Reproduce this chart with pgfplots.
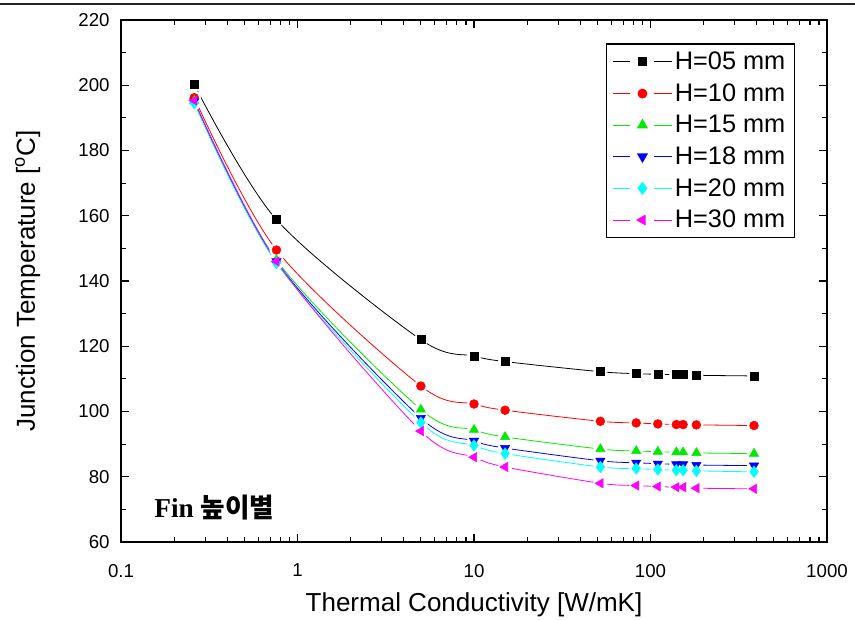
\documentclass[border=0pt]{standalone}
\usepackage{pgfplots}
\pgfplotsset{compat=1.18}
\usepackage{pgfplotstable}
\usepackage{fontspec}
\setmainfont{Liberation Sans}
\newfontfamily\serifb{Liberation Serif}
\newfontfamily\cjk{Noto Sans CJK KR}

\definecolor{cgreen}{RGB}{0,235,0}
\definecolor{cblue}{RGB}{0,0,255}
\definecolor{ccyan}{RGB}{0,255,255}
\definecolor{cmag}{RGB}{255,0,255}
\definecolor{cred}{RGB}{255,0,0}

\pgfplotstableread{
k    h05   h10   h15   h18   h20   h30
0.26 200.2 196.2 195.3 195.0 194.5 195.3
0.76 158.8 149.5 146.5 146.0 145.5 146.0
5    122.0 107.8 100.6 98.0  96.6  94.0
10   117.0 102.3 94.4  91.0  89.6  86.0
15   115.3 100.4 92.2  88.8  87.1  83.0
52   112.2 97.0  88.5  84.9  83.0  78.0
83   111.6 96.5  87.9  84.3  82.5  77.3
110  111.4 96.2  87.7  84.0  82.2  77.0
140  111.3 96.0  87.5  83.8  82.0  76.8
153  111.3 96.0  87.5  83.8  82.0  76.8
182  111.1 95.9  87.3  83.6  81.8  76.5
386  110.9 95.7  87.1  83.4  81.5  76.3
}\data

\pgfplotsset{
  gaplegend/.style={legend image code/.code={
    \draw[line width=0.6pt] (0pt,0pt) -- (13pt,0pt) (31pt,0pt) -- (44pt,0pt);
    \draw plot coordinates {(22pt,0pt)};
  }}
}

\begin{document}
\begin{tikzpicture}
\useasboundingbox (-90.75pt,-57.75pt) rectangle (550.5pt,406.5pt);
\draw[line width=1.4pt, black!85] (-90.75pt,403.5pt) -- (550.5pt,403.5pt);
\begin{axis}[
  at={(0pt,0pt)}, anchor=south west,
  scale only axis, width=529.5pt, height=391.5pt,
  xmode=log, xmin=0.1, xmax=1000, ymin=60, ymax=220,
  xtick={0.1,1,10,100,1000}, xticklabels={0.1,1,10,100,1000},
  minor xtick={0.2,0.3,0.4,0.5,0.6,0.7,0.8,0.9,2,3,4,5,6,7,8,9,20,30,40,50,60,70,80,90,200,300,400,500,600,700,800,900},
  ytick={60,80,...,220}, minor y tick num=1,
  tick align=inside,
  major tick length=6pt, minor tick length=3.5pt,
  axis line style={line width=1.2pt},
  every tick/.style={line width=0.9pt, black},
  /pgf/number format/assume math mode=true,
  tick label style={font=\fontsize{14}{16}\selectfont},
  xticklabel style={yshift=-13pt},
  yticklabel style={xshift=-5pt},
  xlabel={Thermal Conductivity [W/mK]},
  ylabel={Junction Temperature [$^{\mathrm{o}}$C]},
  label style={font=\fontsize{19.5}{22}\selectfont},
  xlabel style={at={(axis description cs:0.5,0)}, anchor=center, yshift=-47pt},
  ylabel style={at={(axis description cs:0,0.5)}, anchor=center, yshift=70pt},
  legend style={at={(0.955,0.955)}, anchor=north east, draw=black, line width=0.8pt,
    font=\fontsize{19}{22}\selectfont, row sep=5pt, inner xsep=5pt, inner ysep=4pt},
  legend cell align=left,
]
% legend entries
\addlegendimage{gaplegend, black, mark=square*, mark size=3pt}
\addlegendentry{H=05 mm}
\addlegendimage{gaplegend, cred, mark=*, mark size=3.3pt}
\addlegendentry{H=10 mm}
\addlegendimage{gaplegend, cgreen, mark=triangle*, mark size=4pt}
\addlegendentry{H=15 mm}
\addlegendimage{gaplegend, cblue, mark=triangle*, mark size=4pt, mark options={rotate=180}}
\addlegendentry{H=18 mm}
\addlegendimage{gaplegend, ccyan, mark=diamond*, mark size=4.3pt}
\addlegendentry{H=20 mm}
\addlegendimage{gaplegend, cmag, mark=triangle*, mark size=4pt, mark options={rotate=90}}
\addlegendentry{H=30 mm}
% lines
\addplot[black, smooth, tension=0.5, line width=0.6pt, forget plot] table[x=k,y=h05]{\data};
\addplot[cred, smooth, tension=0.5, line width=0.6pt, forget plot] table[x=k,y=h10]{\data};
\addplot[cgreen, smooth, tension=0.5, line width=0.6pt, forget plot] table[x=k,y=h15]{\data};
\addplot[cblue, smooth, tension=0.5, line width=0.6pt, forget plot] table[x=k,y=h18]{\data};
\addplot[ccyan, smooth, tension=0.5, line width=0.6pt, forget plot] table[x=k,y=h20]{\data};
\addplot[cmag, smooth, tension=0.5, line width=0.6pt, forget plot] table[x=k,y=h30]{\data};
% halos (gaps around markers)
\addplot[only marks, white, mark=*, mark size=5pt, forget plot] table[x=k,y=h05]{\data};
\addplot[only marks, white, mark=*, mark size=5pt, forget plot] table[x=k,y=h10]{\data};
\addplot[only marks, white, mark=*, mark size=5pt, forget plot] table[x=k,y=h15]{\data};
\addplot[only marks, white, mark=*, mark size=5pt, forget plot] table[x=k,y=h18]{\data};
\addplot[only marks, white, mark=*, mark size=5pt, forget plot] table[x=k,y=h20]{\data};
\addplot[only marks, white, mark=*, mark size=5pt, forget plot] table[x=k,y=h30]{\data};
% markers
\addplot[only marks, black, mark=square*, mark size=3pt, forget plot] table[x=k,y=h05]{\data};
\addplot[only marks, cred, mark=*, mark size=3.3pt, forget plot] table[x=k,y=h10]{\data};
\addplot[only marks, cgreen, mark=triangle*, mark size=4pt, forget plot] table[x=k,y=h15]{\data};
\addplot[only marks, cblue, mark=triangle*, mark size=4pt, mark options={rotate=180}, forget plot] table[x=k,y=h18]{\data};
\addplot[only marks, ccyan, mark=diamond*, mark size=4.3pt, forget plot] table[x=k,y=h20]{\data};
\addplot[only marks, cmag, mark=triangle*, mark size=4pt, mark options={rotate=90}, forget plot] table[x=k,y=h30]{\data};
\node[anchor=center] at (rel axis cs:0.132,0.067) {{\serifb\bfseries\fontsize{20.5}{24}\selectfont Fin}\hspace{5pt}{\cjk\bfseries\fontsize{20}{24}\selectfont 높이별}};
\end{axis}
\end{tikzpicture}
\end{document}
